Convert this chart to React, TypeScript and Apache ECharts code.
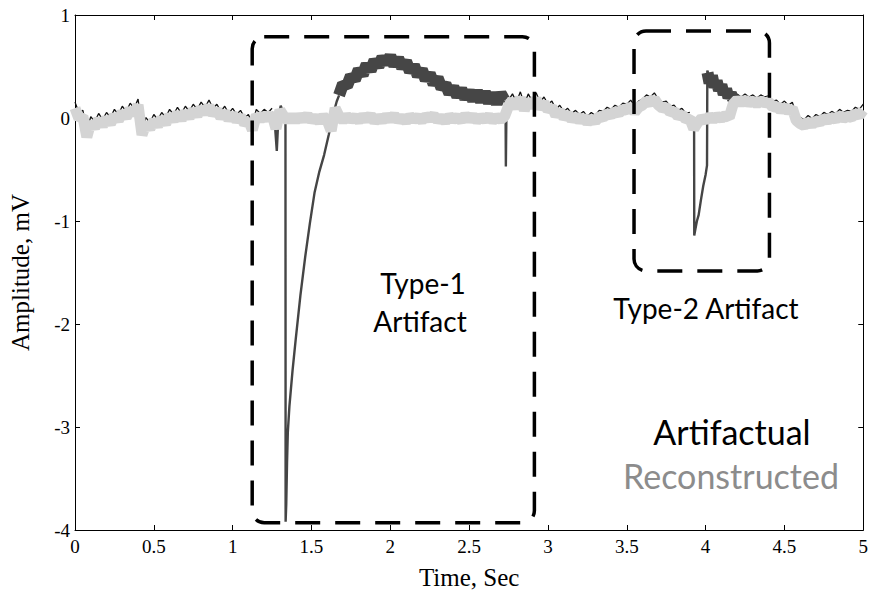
import React, { useEffect, useRef } from "react";
import * as echarts from "echarts";

// ---- axis ticks ----
const xTicks = { min: 0, max: 5, interval: 0.5 };
const yTicks = { min: -4, max: 1, interval: 1 };

// ---- reconstructed signal, sampled every 0.025 s from 0 to 5 s ----
const sampleStep = 0.025;
const reconstructed = [
  0.12, 0.02, 0.04, -0.16, -0.02, -0.07, 0.01, -0.05,
  0.02, -0.03, 0.05, 0.0, 0.08, 0.03, 0.11, 0.06,
  0.15, -0.14, -0.03, -0.08, 0.0, -0.05, 0.02, -0.03,
  0.05, 0.0, 0.07, 0.01, 0.08, 0.03, 0.1, 0.05,
  0.12, 0.07, 0.14, 0.06, 0.1, 0.03, 0.08, 0.01,
  0.06, 0.0, 0.04, -0.03, 0.0, -0.09, 0.05, 0.01,
  0.05, 0.02, 0.06, -0.08, 0.1, 0.04, 0.0, 0.04,
  0.0, 0.04, 0.01, 0.05, 0.0, 0.03, -0.01, 0.04,
  0.0, -0.1, 0.12, 0.04, 0.0, 0.04, 0.01, 0.03,
  0.0, 0.04, 0.01, 0.05, -0.01, 0.03, 0.0, 0.04,
  0.01, 0.05, 0.0, 0.03, -0.01, 0.04, 0.01, 0.03,
  0.0, 0.04, 0.02, 0.05, 0.0, 0.03, -0.01, 0.04,
  0.01, 0.03, 0.0, 0.05, 0.01, 0.04, 0.0, 0.03,
  0.01, 0.04, 0.0, 0.03, 0.01, 0.04, 0.14, 0.2,
  0.12, 0.22, 0.1, 0.2, 0.13, 0.21, 0.12, 0.17,
  0.1, 0.13, 0.05, 0.09, 0.03, 0.06, 0.01, 0.04,
  0.0, 0.03, -0.02, 0.02, -0.01, 0.04, 0.03, 0.07,
  0.05, 0.09, 0.07, 0.11, 0.1, 0.14, 0.08, 0.13,
  0.15, 0.19, 0.17, 0.21, 0.15, 0.12, 0.13, 0.08,
  0.09, 0.04, 0.06, 0.01, 0.02, -0.08, -0.02, 0.02,
  0.0, 0.04, 0.01, 0.04, 0.02, 0.05, 0.03, 0.16,
  0.2, 0.17, 0.2, 0.17, 0.19, 0.16, 0.19, 0.17,
  0.18, 0.13, 0.14, 0.1, 0.13, 0.09, 0.12, 0.0,
  -0.03, -0.05, -0.01, -0.04, 0.0, -0.02, 0.02, 0.0,
  0.03, 0.01, 0.05, 0.02, 0.04, 0.03, 0.07, 0.05,
  0.1,
];

// ---- artifactual signal: equals the reconstructed one outside the artifacts ----
// Type-1 artifact: sharp drop and recovery ramp
const type1RampTimes = [
  1.25, 1.265, 1.28, 1.29, 1.305, 1.32, 1.335, 1.336, 1.34, 1.345, 1.35, 1.36,
  1.38, 1.4, 1.43, 1.46, 1.49, 1.52, 1.55, 1.58, 1.61, 1.635, 1.66, 1.675,
];
const type1RampValues = [
  0.06, 0.0, -0.32, 0.0, 0.12, 0.05, 0.0, -3.92, -3.75, -3.35, -3.05, -2.8,
  -2.45, -2.15, -1.72, -1.35, -1.02, -0.72, -0.52, -0.36, -0.16, 0.02, 0.16, 0.22,
];
// Type-1 artifact: slow hump, every 0.025 s from 1.675 s
const humpStart = 1.675;
const humpValues = [
  0.22, 0.33, 0.31, 0.41, 0.37, 0.47, 0.42, 0.52, 0.46, 0.56, 0.5, 0.59,
  0.53, 0.6, 0.51, 0.58, 0.49, 0.55, 0.45, 0.51, 0.41, 0.47, 0.37, 0.43,
  0.33, 0.39, 0.29, 0.33, 0.24, 0.3, 0.21, 0.28, 0.19, 0.26, 0.17, 0.26,
  0.16, 0.25, 0.15, 0.24, 0.14, 0.24, 0.17,
];
// spike at the end of the type-1 artifact
const spikeTimes = [2.725, 2.731, 2.733, 2.737, 2.75];
const spikeValues = [0.17, 0.12, -0.47, 0.12, 0.14];
// Type-2 artifact: drop, ramp and jump
const type2RampTimes = [
  3.9, 3.915, 3.927, 3.928, 3.935, 3.945, 3.956, 3.97, 3.985, 4.0, 4.009, 4.011, 4.02,
];
const type2RampValues = [
  0.02, 0.0, -0.03, -1.14, -1.08, -1.0, -0.94, -0.8, -0.66, -0.55, -0.46, 0.46, 0.42,
];
// Type-2 artifact: decay back to baseline
const decayTimes = [
  4.012, 4.025, 4.04, 4.055, 4.07, 4.085, 4.1, 4.115, 4.13, 4.145, 4.16, 4.175, 4.19,
];
const decayValues = [0.44, 0.34, 0.41, 0.3, 0.36, 0.27, 0.32, 0.23, 0.28, 0.2, 0.24, 0.18, 0.2];

// ---- annotation boxes (data units) ----
const type1Box = { t0: 1.124, t1: 2.914, vTop: 0.79, vBottom: -3.93 };
const type2Box = { t0: 3.546, t1: 4.405, vTop: 0.845, vBottom: -1.485 };

const sampleTimes = reconstructed.map((_, i) => Math.round(i * sampleStep * 1000) / 1000);
const pairs = (ts: number[], vs: number[]) => ts.map((t, i) => [t, vs[i]]);
const gridSlice = (from: number, to: number) =>
  sampleTimes
    .map((t, i) => [t, reconstructed[i]])
    .filter(([t]) => t >= from - 1e-9 && t <= to + 1e-9);

const GAP = ["-", "-"];

export default function App() {
  const ref = useRef<HTMLDivElement>(null);
  useEffect(() => {
    if (!ref.current) return;
    const chart = echarts.init(ref.current, undefined, { renderer: "svg" });
    const humpTimes = humpValues.map((_, i) => Math.round((humpStart + i * sampleStep) * 1000) / 1000);

    // thin dark trace outside the artifacts (shows as the dark top edge of the band)
    const baseData = [
      ...gridSlice(0, 1.25),
      GAP,
      ...gridSlice(2.75, 3.9),
      GAP,
      ...gridSlice(4.19, 5),
    ];
    // thick dark band of the artifacts
    const thickData = [
      ...pairs(humpTimes, humpValues),
      GAP,
      ...pairs(decayTimes, decayValues),
    ];
    // narrow parts of the artifacts: drops, ramps and spikes
    const thinData = [
      ...pairs(type1RampTimes, type1RampValues),
      GAP,
      ...pairs(spikeTimes, spikeValues),
      GAP,
      ...pairs(type2RampTimes, type2RampValues),
    ];
    const reconData = pairs(sampleTimes, reconstructed);

    const serif = "'Liberation Serif', 'Times New Roman', serif";
    const axisLine = { show: true, onZero: false, lineStyle: { color: "#000", width: 1 } };
    const tick = { show: true, inside: true, length: 5, lineStyle: { color: "#000" } };
    const noLine = { type: "line", showSymbol: false, symbol: "none", xAxisIndex: 0 };

    chart.setOption({
      animation: false,
      grid: { left: 75, right: 4, top: 15, bottom: 63, containLabel: false },
      xAxis: [
        {
          type: "value", position: "bottom", ...xTicks,
          axisLine, axisTick: tick, splitLine: { show: false },
          axisLabel: { color: "#000", fontFamily: serif, fontSize: 19, margin: 7 },
          name: "Time, Sec", nameLocation: "middle", nameGap: 35,
          nameTextStyle: { color: "#000", fontFamily: serif, fontSize: 25 },
        },
        {
          type: "value", position: "top", ...xTicks,
          axisLine, axisTick: tick, splitLine: { show: false }, axisLabel: { show: false },
        },
      ],
      yAxis: [
        {
          type: "value", position: "left", ...yTicks,
          axisLine, axisTick: tick, splitLine: { show: false },
          axisLabel: { color: "#000", fontFamily: serif, fontSize: 19, margin: 5 },
          name: "Amplitude, mV", nameLocation: "middle", nameGap: 42, nameRotate: 90,
          nameTextStyle: { color: "#000", fontFamily: serif, fontSize: 25 },
        },
        {
          type: "value", position: "right", ...yTicks,
          axisLine, axisTick: tick, splitLine: { show: false }, axisLabel: { show: false },
        },
        // drawing offsets for layering the two traces (a few pixels)
        { type: "value", show: false, min: -3.976, max: 1.024, splitLine: { show: false } },
        { type: "value", show: false, min: -4.034, max: 0.966, splitLine: { show: false } },
      ],
      series: [
        { ...noLine, name: "Artifactual", data: baseData, yAxisIndex: 3, z: 2,
          lineStyle: { color: "#111", width: 1.3 } },
        { ...noLine, name: "Artifactual", data: thickData, yAxisIndex: 0, z: 2,
          lineStyle: { color: "#464646", width: 12, join: "bevel" } },
        { ...noLine, name: "Artifactual", data: thinData, yAxisIndex: 0, z: 2,
          lineStyle: { color: "#454545", width: 2.4 } },
        { ...noLine, name: "Reconstructed", data: reconData, yAxisIndex: 2, z: 3,
          lineStyle: { color: "#d4d4d4", width: 11, join: "bevel" } },
      ],
    });

    const box = (b: { t0: number; t1: number; vTop: number; vBottom: number }) => {
      const p0 = chart.convertToPixel({ xAxisIndex: 0, yAxisIndex: 0 }, [b.t0, b.vTop]) as number[];
      const p1 = chart.convertToPixel({ xAxisIndex: 0, yAxisIndex: 0 }, [b.t1, b.vBottom]) as number[];
      return {
        type: "rect",
        z: 10,
        shape: { x: p0[0], y: p0[1], width: p1[0] - p0[0], height: p1[1] - p0[1], r: 12 },
        style: { fill: "none", stroke: "#000", lineWidth: 3.5, lineDash: [25, 15] },
      };
    };
    const sans = "Lato, 'Open Sans', sans-serif";
    const label = (text: string, x: number, y: number, size: number, color: string) => ({
      type: "text", x, y, z: 11,
      style: { text, fill: color, fontFamily: sans, fontSize: size, align: "center", verticalAlign: "middle" },
    });

    chart.setOption({
      graphic: [
        box(type1Box),
        box(type2Box),
        label("Type-1", 423, 283, 28, "#000"),
        label("Artifact", 420, 321, 28, "#000"),
        label("Type-2 Artifact", 706, 308, 28, "#000"),
        label("Artifactual", 732, 431, 34, "#000"),
        label("Reconstructed", 731, 475, 34, "#8c8c8c"),
      ],
    });

    return () => chart.dispose();
  }, []);
  return <div ref={ref} style={{ position: "absolute", left: 0, top: 0, width: 871, height: 595 }} />;
}
